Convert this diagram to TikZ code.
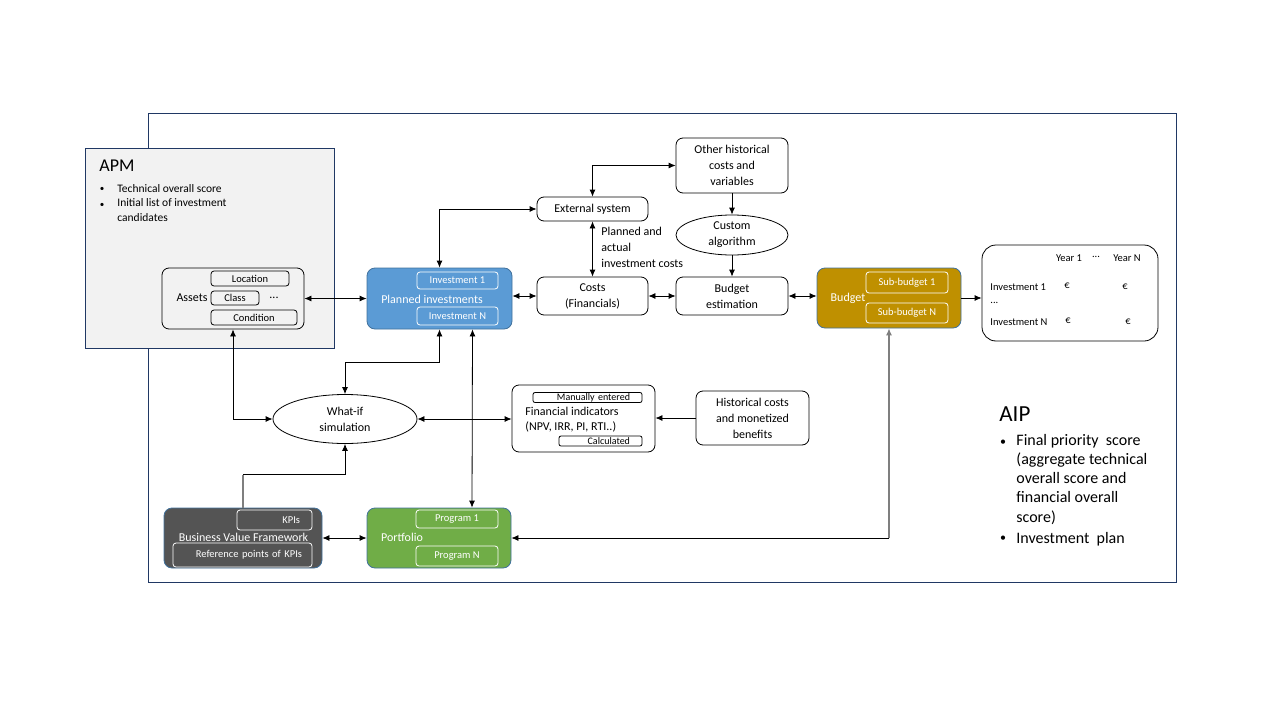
\documentclass[tikz,border=0pt]{standalone}
\usepackage{fontspec}
\setmainfont{Carlito}
\usetikzlibrary{arrows.meta,shapes.geometric,positioning}
\definecolor{navy}{HTML}{203864}
\definecolor{edgeblue}{HTML}{41719C}
\definecolor{planblue}{HTML}{5B9BD5}
\definecolor{budgold}{HTML}{BF9000}
\definecolor{portgreen}{HTML}{70AD47}
\definecolor{bvfgrey}{HTML}{545454}
\definecolor{apmgrey}{HTML}{F2F2F2}
\definecolor{wiregrey}{HTML}{7F7F7F}
\tikzstyle{box}=[draw,rounded corners=7pt,align=center,font=\fontsize{12}{16}\selectfont,inner sep=1pt]
\tikzstyle{oval}=[draw,ellipse,align=center,font=\fontsize{12}{16}\selectfont,inner sep=0pt]
\tikzstyle{group}=[draw=edgeblue,rounded corners=8pt,inner sep=0pt]
\tikzstyle{tag}=[draw,rounded corners=3pt,font=\fontsize{10.5}{12}\selectfont,inner sep=0pt]
\tikzstyle{wtag}=[tag,draw=white,text=white]
\tikzstyle{rtag}=[align=right,inner xsep=12pt]
\tikzstyle{txt}=[font=\fontsize{12}{16}\selectfont,inner sep=0pt]
\tikzstyle{small}=[font=\fontsize{10.5}{12}\selectfont,inner sep=0pt]

\begin{document}
\begin{tikzpicture}[x=1pt,y=-1pt,line width=0.8pt,
>={Latex[length=7pt,width=6pt]},
every edge/.style = {draw, <->}]
\useasboundingbox (0,0) rectangle (1280,720);
\node [draw=navy,minimum width=1028pt,minimum height=469pt] (aip) at (662,347.5) {};
\node [draw=navy,fill=apmgrey,minimum width=249pt,minimum height=200pt] (apm) at (209.5,248) {};
\node [anchor=west,font=\fontsize{18}{20}\selectfont,inner sep=0pt] (apmtitle) at (99,166) {APM};
\node [small,font=\fontsize{9}{15}\selectfont] (apmb1) at (102,189) {\textbullet};
\node [small,font=\fontsize{11.5}{15}\selectfont,anchor=west] (apmt1) at (117,189) {Technical overall score};
\node [small,font=\fontsize{9}{15}\selectfont] (apmb2) at (102,205) {\textbullet};
\node [small,font=\fontsize{11.5}{15}\selectfont,anchor=north west,align=left] (apmt2) at (117,198) {Initial list of investment\\candidates};
\node [box,minimum width=142pt,minimum height=61pt] (assets) at (233,298.5) {};
\node [txt] (assetslbl) at (192,298) {Assets};
\node [tag,minimum width=78pt,minimum height=15pt] (loc) at (250,278.5) {Location};
\node [tag,minimum width=48pt,minimum height=14pt] (class) at (235,298) {Class};
\node [txt] (assetsdots) at (274,298) {...};
\node [tag,minimum width=86pt,minimum height=15pt] (cond) at (254,317.5) {Condition};
\node [group,fill=planblue,minimum width=145pt,minimum height=61pt] (planned) at (439.5,298.5) {};
\node [txt,text=white] (plannedlbl) at (432,299) {Planned investments};
\node [wtag,minimum width=81pt,minimum height=17pt] (inv1) at (457.5,280.5) {Investment 1};
\node [wtag,minimum width=81pt,minimum height=18pt] (invN) at (457.5,316) {Investment N};
\node [box,minimum width=111pt,minimum height=24pt] (ext) at (592.5,209) {External system};
\node [box,minimum width=111pt,minimum height=38pt] (costs) at (592.5,296) {Costs\\(Financials)};
\node [box,minimum width=112pt,minimum height=55pt] (other) at (732,165.5) {Other historical\\costs and\\variables};
\node [oval,minimum width=112pt,minimum height=40pt] (algo) at (732,235) {Custom\\algorithm};
\node [box,minimum width=112pt,minimum height=38pt] (est) at (732,296) {Budget\\estimation};
\node [group,fill=budgold,minimum width=144pt,minimum height=60pt] (budget) at (889,298) {};
\node [txt,text=white] (budgetlbl) at (848,298) {Budget};
\node [wtag,minimum width=82pt,minimum height=21pt] (sb1) at (907,282.5) {Sub-budget 1};
\node [wtag,minimum width=82pt,minimum height=20pt] (sbN) at (907,313) {Sub-budget N};
\node [box,rounded corners=14pt,minimum width=176pt,minimum height=96pt] (plan) at (1070,293) {};
\node [small] (yr1) at (1069,258) {Year 1};
\node [small] (yrdots) at (1096,257) {...};
\node [small] (yrN) at (1127,258) {Year N};
\node [small,anchor=west] (row1) at (990,287) {Investment 1};
\node [small] (e11) at (1067,286) {€};
\node [small] (e1N) at (1125,287) {€};
\node [small,anchor=west] (rowdots) at (990,303) {...};
\node [small,anchor=west] (rowN) at (990,322) {Investment N};
\node [small] (eN1) at (1068,321) {€};
\node [small] (eNN) at (1128,322) {€};
\node [oval,minimum width=144pt,minimum height=49pt] (whatif) at (345,419) {What-if\\simulation};
\node [box,minimum width=143pt,minimum height=67pt] (fin) at (583.5,418.5) {};
\node [txt,anchor=west,align=left,font=\fontsize{12}{15}\selectfont] (finlbl) at (525,419.5) {Financial indicators\\(NPV, IRR, PI, RTI..)};
\node [tag,rtag,rounded corners=2pt,font=\fontsize{10}{10}\selectfont,text width=85pt,minimum height=10pt] (manual) at (587.5,397.5) {Manually entered};
\node [tag,rtag,rounded corners=2pt,font=\fontsize{10}{10}\selectfont,text width=59pt,minimum height=10pt] (calc) at (600.5,441) {Calculated};
\node [box,minimum width=113pt,minimum height=54pt] (hist) at (752.5,418) {Historical costs\\and monetized\\benefits};
\node [group,fill=bvfgrey,minimum width=158pt,minimum height=60pt] (bvf) at (243,538) {};
\node [txt,text=white] (bvflbl) at (243.5,537) {Business Value Framework};
\node [wtag,rtag,text width=51pt,minimum height=20pt] (kpi) at (274.5,520) {KPIs};
\node [wtag,rtag,inner xsep=10pt,text width=119pt,minimum height=24pt] (ref) at (242.5,555) {Reference points of KPIs};
\node [group,fill=portgreen,minimum width=144pt,minimum height=60pt] (port) at (439,538) {};
\node [txt,text=white] (portlbl) at (402,537) {Portfolio};
\node [wtag,minimum width=82pt,minimum height=18pt] (prog1) at (457,519) {Program 1};
\node [wtag,minimum width=82pt,minimum height=20pt] (progN) at (457,556) {Program N};
\node [anchor=west,font=\fontsize{23}{25}\selectfont,inner sep=0pt] (aiptitle) at (999,414) {AIP};
\node [font=\fontsize{12}{19.3}\selectfont,inner sep=0pt] (aipb1) at (1003,443) {\textbullet};
\node [font=\fontsize{16}{19.3}\selectfont,inner sep=0pt,anchor=north west,align=left] (aipt1) at (1016,433.5) {Final priority~ score\\(aggregate technical\\overall score and\\financial overall\\score)};
\node [font=\fontsize{12}{19.3}\selectfont,inner sep=0pt] (aipb2) at (1003,539) {\textbullet};
\node [font=\fontsize{16}{19.3}\selectfont,inner sep=0pt,anchor=west] (aipt2) at (1016,539) {Investment~ plan};
\node [txt,anchor=north west,align=left] (costlbl) at (601,227) {Planned and\\actual\\investment costs};
\path (assets.east) edge (assets.east -| planned.west)
      (costs.west -| planned.east) edge (costs.west)
      (costs.east) edge (est.west)
      (est.east) edge (est.east -| budget.west)
      (ext.south) edge (costs.north)
      ([xshift=33pt]planned.south) edge ([xshift=33pt]port.north)
      (whatif.east) edge (whatif.east -| fin.west)
      (bvf.east) edge (bvf.east -| port.west);
\draw [<->] (planned.north) |- (ext.west);
\draw [<->] (ext.north) |- (other.west);
\draw [<->] (assets.south) |- (whatif.west);
\draw [<->] (planned.south) -- ++(0,33) -| (whatif.north);
\draw [->] (other.south) -- (algo.north);
\draw [->] (algo.south) -- (est.north);
\draw [->] (budget.east) -- (budget.east -| plan.west);
\draw [->] (hist.west) -- (hist.west -| fin.east);
\coordinate (bend) at (budget.south |- port.east);
\draw [<-,draw=wiregrey,line width=1.2pt] (budget.south) -- (bend);
\draw [->] (bend) -- (port.east);
\coordinate (knee) at ([yshift=33pt]bvf.north);
\draw [draw=wiregrey,line width=1.2pt] (bvf.north) -- (knee);
\draw [->] (knee) -| (whatif.south);
\end{tikzpicture}
\end{document}
